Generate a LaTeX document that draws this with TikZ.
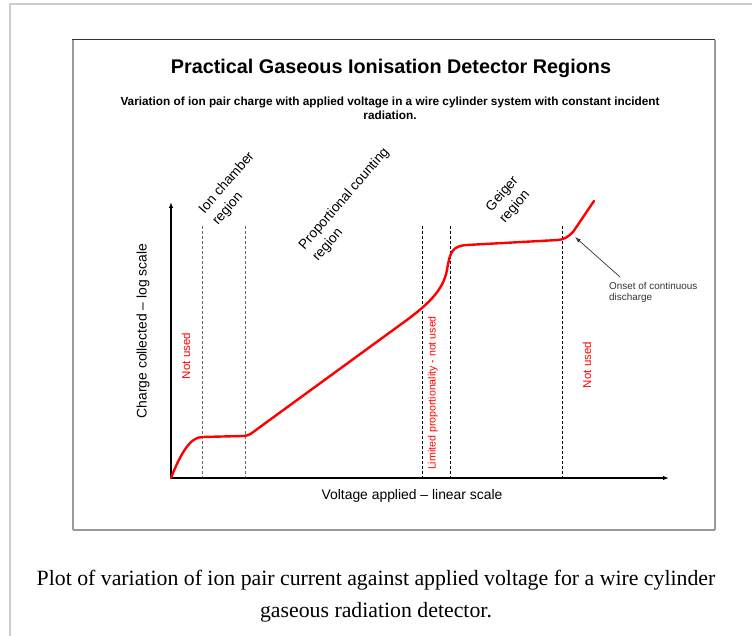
\documentclass[tikz,border=0pt]{standalone}
\usepackage{fontspec}
\setmainfont{Liberation Sans}
\newfontfamily\capfont{Liberation Serif}
\usetikzlibrary{arrows.meta}
\definecolor{framegray}{HTML}{CCCCCC}
\definecolor{boxgray}{HTML}{999999}
\definecolor{boxdark}{HTML}{333333}
\definecolor{curvered}{HTML}{FF0000}
\tikzset{
  regionline/.style={dashed, dash pattern=on 3pt off 2pt, line width=0.8pt, black},
  regionlinegray/.style={dashed, dash pattern=on 3pt off 2pt, line width=0.8pt, black!60},
  axisline/.style={line width=1.3pt, -{Latex[length=6pt,width=4.5pt]}},
  regionlabel/.style={font=\fontsize{13.7}{18}\selectfont, align=left, rotate=49, inner sep=0pt, anchor=base west},
  redlabel/.style={text=curvered, rotate=90, inner sep=0pt},
  curve/.style={curvered, line width=2.4pt, line join=round, line cap=round},
}
\begin{document}
\begin{tikzpicture}[x=1pt,y=-1pt]
\useasboundingbox (0,0) rectangle (752,636);
% outer thumbnail frame
\draw[framegray, line width=1.5pt] (10,636) -- (10,4) -- (752,4);
% inner box
\draw[boxgray, line width=2pt] (73,40) -- (73,530);
\draw[boxgray, line width=1.5pt] (73,530) -- (715,530);
\draw[boxgray, line width=2pt] (715,40) -- (715,530);
\draw[boxdark, line width=1pt] (72,40) -- (715,40);
% title
\node[font=\fontsize{19.8}{22}\bfseries\selectfont, inner sep=0pt] (title) at (391,68) {Practical Gaseous Ionisation Detector Regions};
\node[font=\fontsize{11.8}{14}\bfseries\selectfont, align=center, inner sep=0pt] (subtitle) at (390,108) {Variation of ion pair charge with applied voltage in a wire cylinder system with constant incident\\radiation.};
% axes
\coordinate (origin) at (171,478);
\coordinate (ytop) at (171,202);
\coordinate (xend) at (669,478);
% dashed region lines
\coordinate (d1t) at (202,226); \coordinate (d1b) at (202,478);
\coordinate (d2t) at (245,226); \coordinate (d2b) at (245,478);
\coordinate (d3t) at (422,226); \coordinate (d3b) at (422,478);
\coordinate (d4t) at (450,226); \coordinate (d4b) at (450,478);
\coordinate (d5t) at (562,226); \coordinate (d5b) at (562,478);
\draw[regionlinegray] (d1t) -- (d1b);
\draw[regionlinegray] (d2t) -- (d2b);
\draw[regionline] (d3t) -- (d3b);
\draw[regionline] (d4t) -- (d4b);
\draw[regionline] (d5t) -- (d5b);
\draw[axisline] (origin) -- (ytop);
\draw[axisline] (origin) -- (xend);
% curve
\draw[curve] (origin) .. controls (180,455) and (190,437) .. (202,437)
  -- (243,436) .. controls (249,436) and (252,433) .. (258,428.5)
  -- (400,325) .. controls (425,307) and (443,292) .. (447,270)
  .. controls (450,252) and (452,246) .. (467,245)
  -- (558,240) .. controls (564,239.5) and (568,237) .. (573,232)
  -- (594,201);
% onset arrow
\coordinate (onsettip) at (575,237);
\coordinate (onsetstart) at (620,277);
\draw[boxdark, line width=0.7pt, -{Latex[length=6pt,width=4pt]}] (onsetstart) -- (onsettip);
\node[font=\fontsize{9.9}{11.5}\selectfont, text=boxdark, align=left, anchor=north west, inner sep=0pt] (onset) at (609,282) {Onset of continuous\\ discharge};
% region labels (anchor = start of the last line)
\node[regionlabel] (ionlab) at (218,226) {Ion chamber\\region};
\node[regionlabel] (proplab) at (318,262) {Proportional counting\\region};
\node[regionlabel] (geigerlab) at (505,224) {Geiger\\region};
% red labels
\node[redlabel, font=\fontsize{11.5}{13}\selectfont] (nu1) at (186,356) {Not used};
\node[redlabel, font=\fontsize{10.6}{12}\selectfont] (lim) at (433,393) {Limited proportionality - not used};
\node[redlabel, font=\fontsize{11.5}{13}\selectfont] (nu2) at (587,365) {Not used};
% axis labels
\node[font=\fontsize{13.9}{16}\selectfont, rotate=90, inner sep=0pt] (ylab) at (143,331) {Charge collected -- log scale};
\node[font=\fontsize{13.9}{16}\selectfont, inner sep=0pt] (xlab) at (412,496) {Voltage applied -- linear scale};
% caption
\node[font=\capfont\fontsize{21.8}{32}\selectfont, align=center, inner sep=0pt] (caption) at (376,596) {Plot of variation of ion pair current against applied voltage for a wire cylinder\\gaseous radiation detector.};
\end{tikzpicture}
\end{document}
